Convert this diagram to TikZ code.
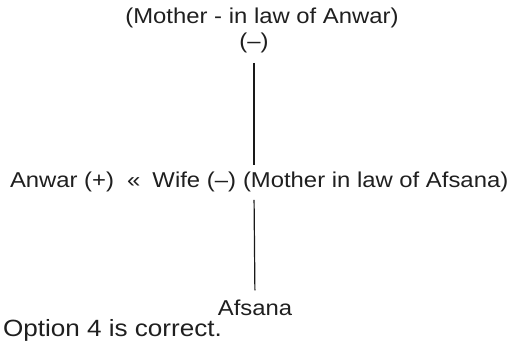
\documentclass[tikz,border=0pt]{standalone}
\usepackage{fontspec}
\setmainfont{Liberation Sans}[FakeStretch=1.11]
\begin{document}
\begin{tikzpicture}[x=1pt,y=-1pt,
  lbl/.style={inner sep=0pt,outer sep=0pt,font=\fontsize{21.5}{25}\selectfont,text=black!88},
  biglbl/.style={lbl,font=\fontsize{23.5}{27}\selectfont},
  link/.style={line width=1.2pt,black!90}]
\useasboundingbox (0,0) rectangle (515,350);
\node[lbl,anchor=base] (mila) at (262,24) {(Mother - in law of Anwar)};
\node[lbl,anchor=base] (minus) at (254,49) {(--)};
\node[lbl,anchor=base west] (anwar) at (10,188) {Anwar (+)};
\node[lbl,anchor=base west] (rel) at (127,188) {«};
\node[lbl,anchor=base east] (wife) at (236,188) {Wife (--)};
\node[lbl,anchor=base west] (milaf) at (243,188) {(Mother in law of Afsana)};
\node[lbl,anchor=base] (afsana) at (255,316) {Afsana};
\node[biglbl,anchor=base west] (opt) at (3,337) {Option 4 is correct.};
\draw[link,shorten <=9.5pt,shorten >=7pt] (minus.south) -- (minus.south |- milaf.north);
\draw[link,shorten <=7.5pt,shorten >=10pt] (minus.south |- milaf.south) -- (afsana.north);
\end{tikzpicture}
\end{document}
